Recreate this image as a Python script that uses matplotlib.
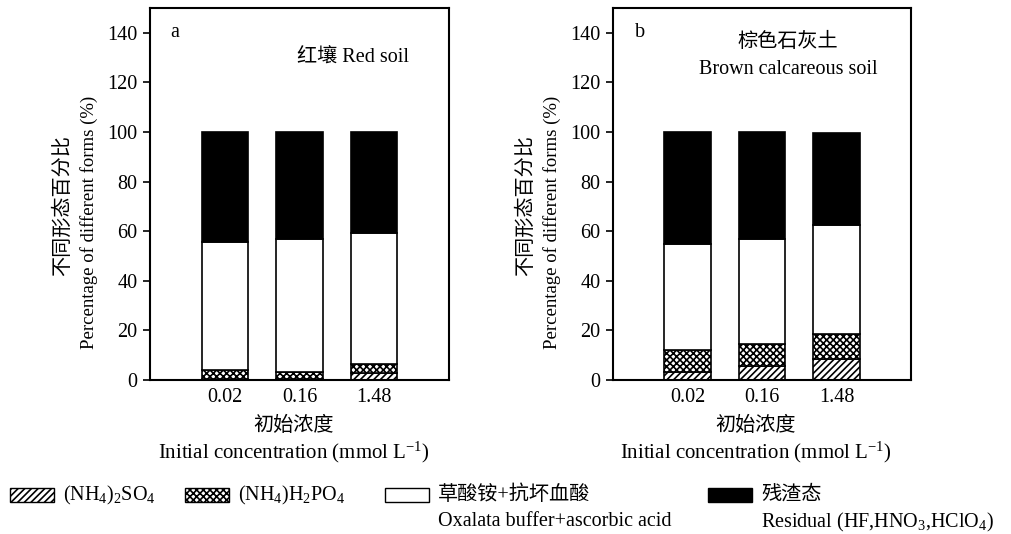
import numpy as np
import matplotlib
matplotlib.use("Agg")
import matplotlib.pyplot as plt
from matplotlib.patches import Rectangle

plt.rcParams['font.family'] = ['Liberation Serif', 'Noto Sans CJK SC']
plt.rcParams['mathtext.fontset'] = 'custom'
plt.rcParams['mathtext.rm'] = 'Liberation Serif'
plt.rcParams['mathtext.it'] = 'Liberation Serif:italic'
plt.rcParams['hatch.linewidth'] = 1.2

# data (percent of total)
concentrations = ['0.02', '0.16', '1.48']
red_so4 = [0.3, 0.5, 2.9]
red_h2po4 = [3.9, 2.8, 3.4]
red_oxalate = [51.4, 53.7, 53.0]
red_residual = [44.4, 43.0, 40.7]

brown_so4 = [3.2, 5.5, 8.3]
brown_h2po4 = [8.8, 9.0, 10.3]
brown_oxalate = [43.0, 42.5, 44.1]
brown_residual = [45.0, 43.0, 37.0]

yticks = [0, 20, 40, 60, 80, 100, 120, 140]

FS = 14.5

fig = plt.figure(figsize=(10.12, 5.34), dpi=100)
ax_a = fig.add_axes([150 / 1012, 1 - 380 / 534, 299 / 1012, 372 / 534])
ax_b = fig.add_axes([613 / 1012, 1 - 380 / 534, 298 / 1012, 372 / 534])

styles = [
    dict(facecolor='white', hatch='/////'),
    dict(facecolor='white', hatch='xxxxx'),
    dict(facecolor='white', hatch=''),
    dict(facecolor='black', hatch=''),
]


def draw_panel(ax, layers):
    x = np.arange(1, len(concentrations) + 1)
    bottom = np.zeros(len(x))
    for vals, st in zip(layers, styles):
        ax.bar(x, vals, width=0.62, bottom=bottom, edgecolor='black',
               linewidth=1.2, **st)
        bottom += np.array(vals)
    ax.set_xlim(0, 4)
    ax.set_ylim(0, 150)
    ax.set_xticks(x)
    ax.set_xticklabels(concentrations, fontsize=FS)
    ax.tick_params(axis='x', length=0, pad=6)
    ax.set_yticks(yticks)
    ax.tick_params(axis='y', direction='out', length=5, width=1.2, labelsize=FS, pad=4)
    for s in ax.spines.values():
        s.set_linewidth(1.5)
    # y label, two lines
    ax.text(-0.29, 0.47, '不同形态百分比', transform=ax.transAxes, rotation=90,
            ha='center', va='center', fontsize=FS)
    ax.text(-0.205, 0.425, 'Percentage of different forms (%)', transform=ax.transAxes,
            rotation=90, ha='center', va='center', fontsize=13.5)
    # x label, two lines
    ax.text(0.48, -0.125, '初始浓度', transform=ax.transAxes, ha='center',
            va='center', fontsize=FS)
    ax.text(0.48, -0.195, 'Initial concentration (mmol L$^{-1}$)',
            transform=ax.transAxes, ha='center', va='center', fontsize=15)


draw_panel(ax_a, [red_so4, red_h2po4, red_oxalate, red_residual])
draw_panel(ax_b, [brown_so4, brown_h2po4, brown_oxalate, brown_residual])

ax_a.text(0.33, 140, 'a', ha='center', va='center', fontsize=FS)
ax_a.text(2.72, 130, '红壤 Red soil', ha='center', va='center', fontsize=FS)
ax_b.text(0.36, 140, 'b', ha='center', va='center', fontsize=FS)
ax_b.text(2.35, 136, '棕色石灰土', ha='center', va='center', fontsize=FS)
ax_b.text(2.35, 125, 'Brown calcareous soil', ha='center', va='center', fontsize=FS)

# legend along the bottom
legend_items = [
    (10, styles[0], ['(NH$_4$)$_2$SO$_4$']),
    (185, styles[1], ['(NH$_4$)H$_2$PO$_4$']),
    (385, styles[2], ['草酸铵+抗坏血酸', 'Oxalata buffer+ascorbic acid']),
    (708, styles[3], ['残渣态', 'Residual (HF,HNO$_3$,HClO$_4$)']),
]
for x0, st, lines in legend_items:
    fig.patches.append(Rectangle((x0 / 1012, 1 - 502 / 534), 44 / 1012, 14 / 534,
                                 transform=fig.transFigure, edgecolor='black',
                                 linewidth=1.0, **st))
    for i, t in enumerate(lines):
        fig.text((x0 + 53) / 1012, 1 - (495 + 27 * i) / 534, t, ha='left',
                 va='center', fontsize=FS)

fig.savefig('out.png', dpi=100)
